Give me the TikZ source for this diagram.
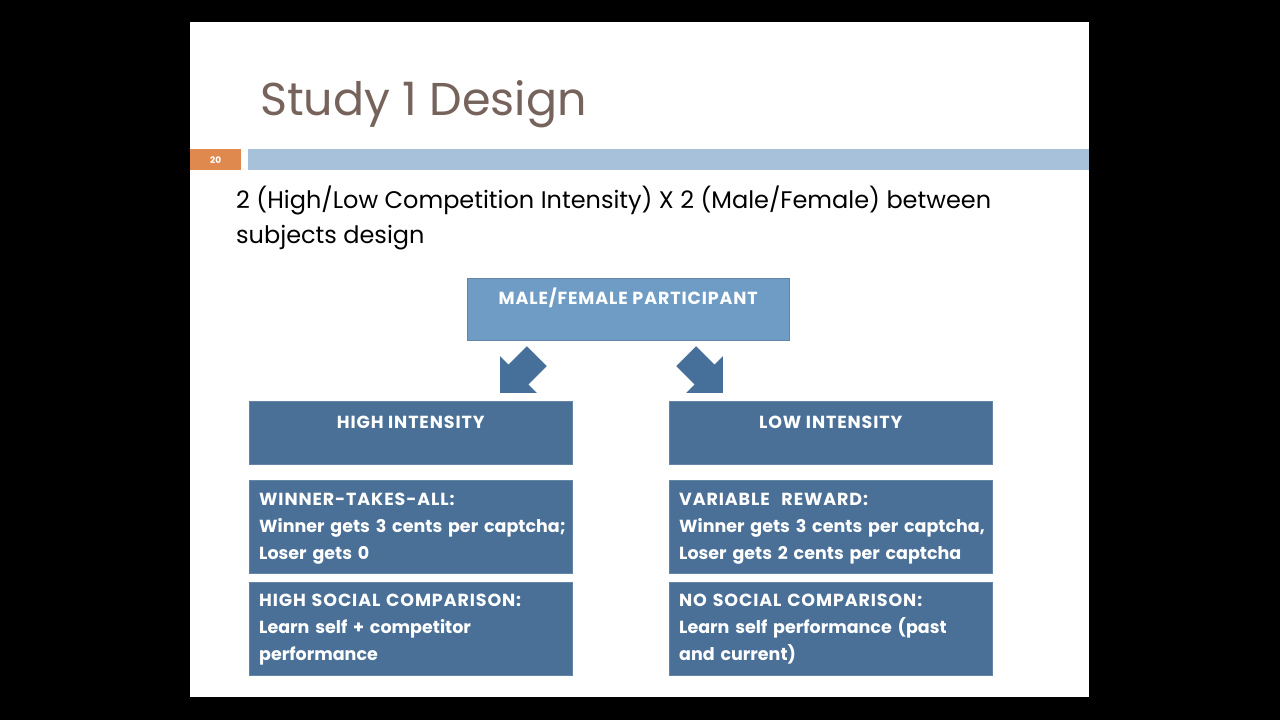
\documentclass[tikz,border=0pt]{standalone}
\usepackage{fontspec}
\setmainfont{Poppins}
\usetikzlibrary{positioning}
\definecolor{titlebrown}{HTML}{76635C}
\definecolor{numorange}{HTML}{E0894F}
\definecolor{barblue}{HTML}{A6C1D9}
\definecolor{topblue}{HTML}{6E9CC5}
\definecolor{boxblue}{HTML}{4A7097}
\definecolor{arrowblue}{HTML}{46709A}
\newcommand{\capsline}{\addfontfeature{LetterSpace=5}}

\begin{document}
\begin{tikzpicture}[x=1pt, y=-1pt,
    node distance=8pt,
    box/.style={fill=boxblue, draw=boxblue!85!white, minimum width=323pt, inner sep=0pt},
    boxtxt/.style={text=white, font=\fontsize{17.5}{27}\selectfont\bfseries, inner sep=0pt, align=left},
    blockarrow/.style={fill=arrowblue}]
    % slide
    \fill[black] (0,0) rectangle (1280,720);
    \fill[white] (190,22) rectangle (1089,697);
    \node[anchor=base west, text=titlebrown, font=\fontsize{46}{50}\selectfont, inner sep=0pt] (title) at (260,115) {Study 1 Design};
    \node[fill=numorange, anchor=north west, minimum width=51pt, minimum height=21pt, inner sep=0pt, text=white, font=\fontsize{9}{9}\selectfont\bfseries] (num) at (190,149) {20};
    \node[fill=barblue, anchor=north west, minimum width=841pt, minimum height=21pt, inner sep=0pt] (bar) at (248,149) {};
    \node[anchor=base west, align=left, inner sep=0pt, font=\fontsize{24}{35}\selectfont] (sub) at (236,243) {2 (High/Low Competition Intensity) X 2 (Male/Female) between\\subjects design};
    % boxes
    \node[box, fill=topblue, anchor=north west, minimum width=322pt, minimum height=62pt] (part) at (467,278) {};
    \node[box, anchor=north west, minimum height=63pt] (hi) at (249,401) {};
    \node[box, anchor=north west, minimum height=63pt] (lo) at (669,401) {};
    \node[box, minimum height=93pt, below=16pt of hi] (wta) {};
    \node[box, minimum height=93pt, below=of wta] (hsc) {};
    \node[box, minimum height=93pt, below=16pt of lo] (var) {};
    \node[box, minimum height=93pt, below=of var] (nsc) {};
    % block arrows
    \coordinate (arrL) at (518.4,374.6);
    \coordinate (arrR) at (704.6,374.6);
    \foreach \c/\a in {arrL/225, arrR/-45}
      \fill[blockarrow, shift={(\c)}, rotate=\a] (-26,-14) -- (0,-14) -- (0,-26) -- (26,0) -- (0,26) -- (0,14) -- (-26,14) -- cycle;
    % texts
    \node[boxtxt, anchor=base] at ([yshift=-26pt]part.north) {\capsline MALE/FEMALE PARTICIPANT};
    \node[boxtxt, anchor=base] at ([yshift=-27pt]hi.north) {\capsline HIGH INTENSITY};
    \node[boxtxt, anchor=base] at ([yshift=-27pt]lo.north) {\capsline LOW INTENSITY};
    \node[boxtxt, anchor=base west, text width=310pt] at ([xshift=10pt,yshift=-25pt]wta.north west) {{\capsline WINNER-TAKES-ALL:}\\Winner gets 3 cents per captcha;\\Loser gets 0};
    \node[boxtxt, anchor=base west, text width=310pt] at ([xshift=10pt,yshift=-25pt]hsc.north west) {{\capsline HIGH SOCIAL COMPARISON:}\\Learn self + competitor\\performance};
    \node[boxtxt, anchor=base west, text width=310pt] at ([xshift=10pt,yshift=-25pt]var.north west) {{\capsline VARIABLE~ REWARD:}\\Winner gets 3 cents per captcha,\\Loser gets 2 cents per captcha};
    \node[boxtxt, anchor=base west, text width=310pt] at ([xshift=10pt,yshift=-25pt]nsc.north west) {{\capsline NO SOCIAL COMPARISON:}\\Learn self performance (past\\and current)};
\end{tikzpicture}
\end{document}
